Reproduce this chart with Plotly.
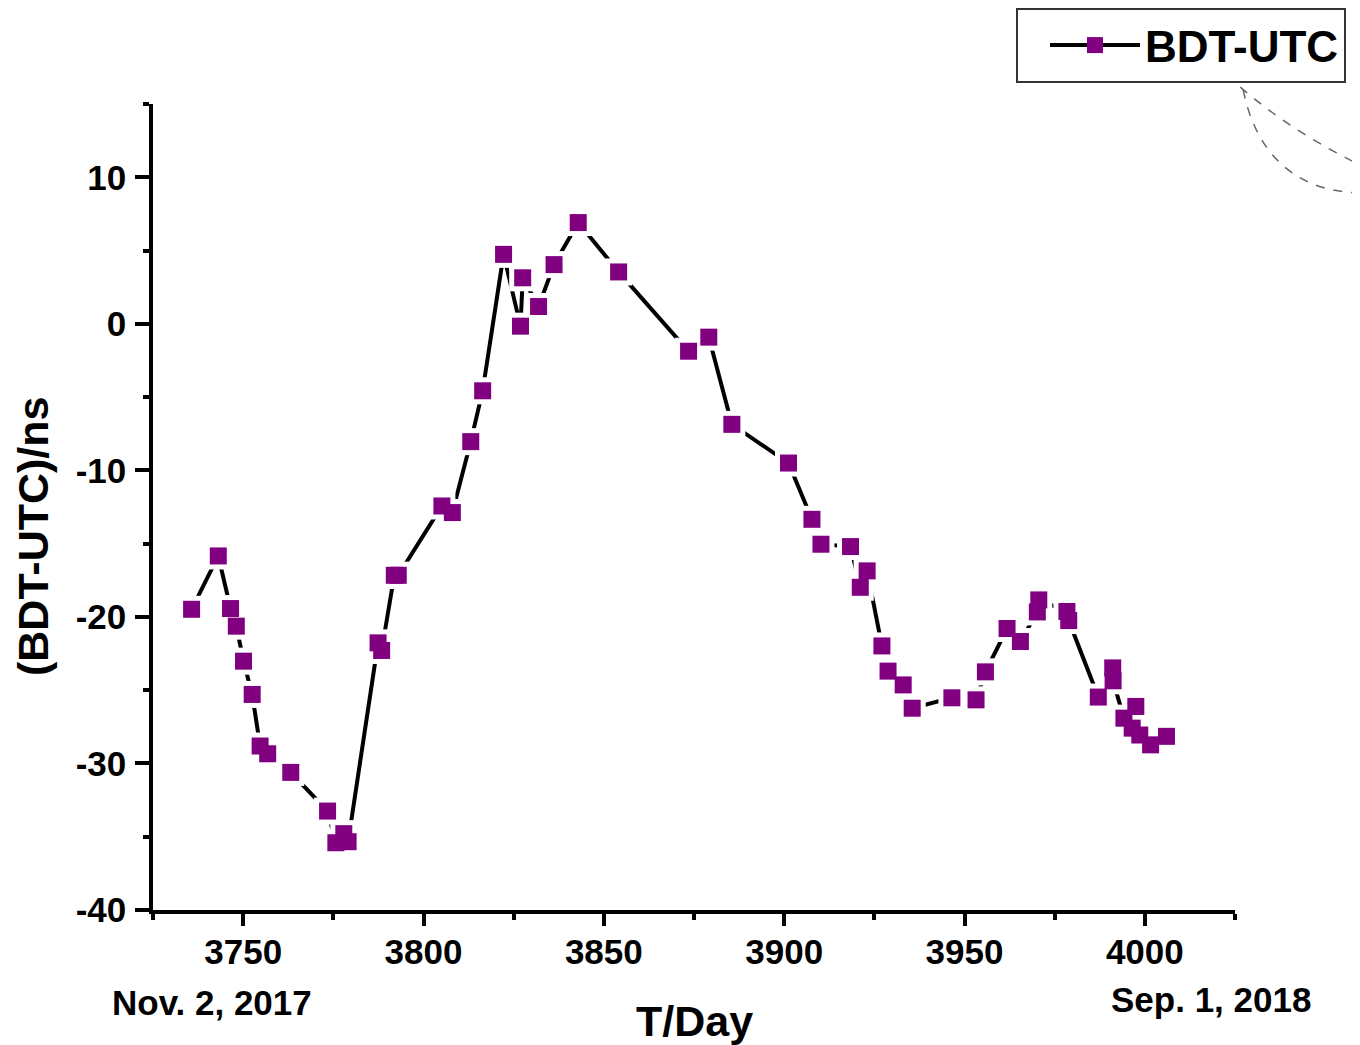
import plotly.graph_objects as go

# ---- data ----
t_day = [3735.7, 3743.1, 3746.5, 3748.1, 3750.1, 3752.5, 3754.7, 3756.8, 3763.2, 3773.4,
         3775.7, 3777.9, 3779.1, 3787.4, 3788.4, 3791.9, 3793.0, 3805.1, 3808.0, 3813.1,
         3816.4, 3822.2, 3826.9, 3827.5, 3831.9, 3836.2, 3842.9, 3854.1, 3873.5, 3879.1,
         3885.5, 3901.2, 3907.7, 3910.2, 3918.4, 3921.1, 3923.0, 3927.1, 3928.8, 3933.0,
         3935.5, 3946.5, 3953.2, 3955.8, 3961.8, 3965.5, 3970.2, 3970.6, 3978.4, 3978.9,
         3987.1, 3991.1, 3991.2, 3994.2, 3996.5, 3997.5, 3998.6, 4001.6, 4006.0]
bdt_utc = [-19.48, -15.84, -19.43, -20.63, -23.02, -25.29, -28.81, -29.34, -30.61, -33.25,
           -35.41, -34.79, -35.34, -21.77, -22.29, -17.16, -17.16, -12.43, -12.88, -8.04,
           -4.57, 4.74, -0.16, 3.14, 1.18, 4.04, 6.91, 3.54, -1.87, -0.91,
           -6.86, -9.50, -13.34, -15.04, -15.20, -17.98, -16.86, -21.98, -23.70, -24.64,
           -26.23, -25.52, -25.66, -23.75, -20.79, -21.68, -19.66, -18.84, -19.63, -20.25,
           -25.47, -23.48, -24.36, -26.91, -27.59, -26.11, -28.06, -28.73, -28.15]
series_name = "BDT-UTC"
x_ticks = [3750, 3800, 3850, 3900, 3950, 4000]
y_ticks = [-40, -30, -20, -10, 0, 10]
y_tick_text = ["-40", "-30", "-20", "-10", "0", "10"]
start_label = "Nov. 2, 2017"
end_label = "Sep. 1, 2018"

# ---- layout geometry (screen pixels of the reference) ----
PAGE_OFF = 8                     # default body margin of the page
W, H = 1360 - PAGE_OFF, 1045 - PAGE_OFF
L, R, T, B = 153, 1235, 104, 910  # plot area in screen pixels

def pxx(p):
    return (p - L) / (R - L)

def pxy(p):
    return (B - p) / (B - T)

FONT = "Arial, Liberation Sans, sans-serif"
PURPLE = "#800080"

fig = go.Figure()
# 1) connecting line + squares (this one carries the legend entry)
fig.add_trace(go.Scatter(
    x=t_day, y=bdt_utc, name=series_name, mode="lines+markers",
    line=dict(color="black", width=4),
    marker=dict(symbol="square", size=17, color=PURPLE, line=dict(width=0)),
    showlegend=True,
))
# 2) white halos that open small gaps in the line around every symbol (Origin style)
fig.add_trace(go.Scatter(
    x=t_day, y=bdt_utc, mode="markers", showlegend=False, hoverinfo="skip",
    marker=dict(symbol="square", size=27, color="white", line=dict(width=0)),
))
# 3) purple squares on top
fig.add_trace(go.Scatter(
    x=t_day, y=bdt_utc, mode="markers", showlegend=False,
    marker=dict(symbol="square", size=17, color=PURPLE, line=dict(width=0)),
    hoverinfo="skip",
))

axis_common = dict(
    showgrid=False, zeroline=False, showline=True, linecolor="black", linewidth=3.5,
    ticks="outside", tickwidth=3.5, tickcolor="black", mirror=False,
    tickfont=dict(family=FONT, size=35, color="black", weight="bold"),
)

fig.update_xaxes(
    range=[3725, 4025], tickvals=x_ticks, ticklen=12, ticklabelstandoff=-4,
    minor=dict(ticks="outside", dtick=25, tick0=3725, ticklen=6, tickwidth=3.5, tickcolor="black"),
    **axis_common,
)
fig.update_yaxes(
    range=[-40, 15], tickvals=y_ticks, ticktext=y_tick_text, ticklen=14, ticklabelstandoff=2,
    minor=dict(ticks="outside", dtick=5, tick0=-40, ticklen=6, tickwidth=3.5, tickcolor="black"),
    **axis_common,
)

annotations = [
    dict(text="(BDT-UTC)/ns", x=pxx(33), y=pxy(537), xref="paper", yref="paper",
         textangle=-90, showarrow=False, xanchor="center", yanchor="middle",
         font=dict(family=FONT, size=43, color="black", weight="bold")),
    dict(text="T/Day", x=pxx(694), y=pxy(1021), xref="paper", yref="paper",
         showarrow=False, xanchor="center", yanchor="middle",
         font=dict(family=FONT, size=43, color="black", weight="bold")),
    dict(text=start_label, x=pxx(212), y=pxy(1002), xref="paper", yref="paper",
         showarrow=False, xanchor="center", yanchor="middle",
         font=dict(family=FONT, size=35, color="black", weight="bold")),
    dict(text=end_label, x=pxx(1211), y=pxy(999), xref="paper", yref="paper",
         showarrow=False, xanchor="center", yanchor="middle",
         font=dict(family=FONT, size=35, color="black", weight="bold")),
]

def path_from(points):
    (x0, y0), (x1, y1), (x2, y2), (x3, y3) = points
    return (f"M {pxx(x0)},{pxy(y0)} C {pxx(x1)},{pxy(y1)} "
            f"{pxx(x2)},{pxy(y2)} {pxx(x3)},{pxy(y3)}")

arc_style = dict(color="#666666", width=1.5, dash="dash")
shapes = [
    dict(type="path", xref="paper", yref="paper", layer="below",
         path=path_from([(1242, 0), (1228, 105), (1262, 192), (1362, 193)]), line=arc_style),
    dict(type="path", xref="paper", yref="paper", layer="below",
         path=path_from([(1227, 75), (1262, 108), (1305, 138), (1362, 166)]), line=arc_style),
]

fig.update_layout(
    width=W, height=H,
    margin=dict(l=L - PAGE_OFF, r=W - (R - PAGE_OFF), t=T - PAGE_OFF, b=H - (B - PAGE_OFF),
                autoexpand=False),
    paper_bgcolor="white", plot_bgcolor="white",
    annotations=annotations, shapes=shapes,
    legend=dict(
        x=pxx(1016), y=pxy(8), xanchor="left", yanchor="top",
        bgcolor="white", bordercolor="#333333", borderwidth=2,
        font=dict(family=FONT, size=44, color="black", weight="bold"),
        itemwidth=90, indentation=27,
    ),
)

fig.write_html("out.html")
